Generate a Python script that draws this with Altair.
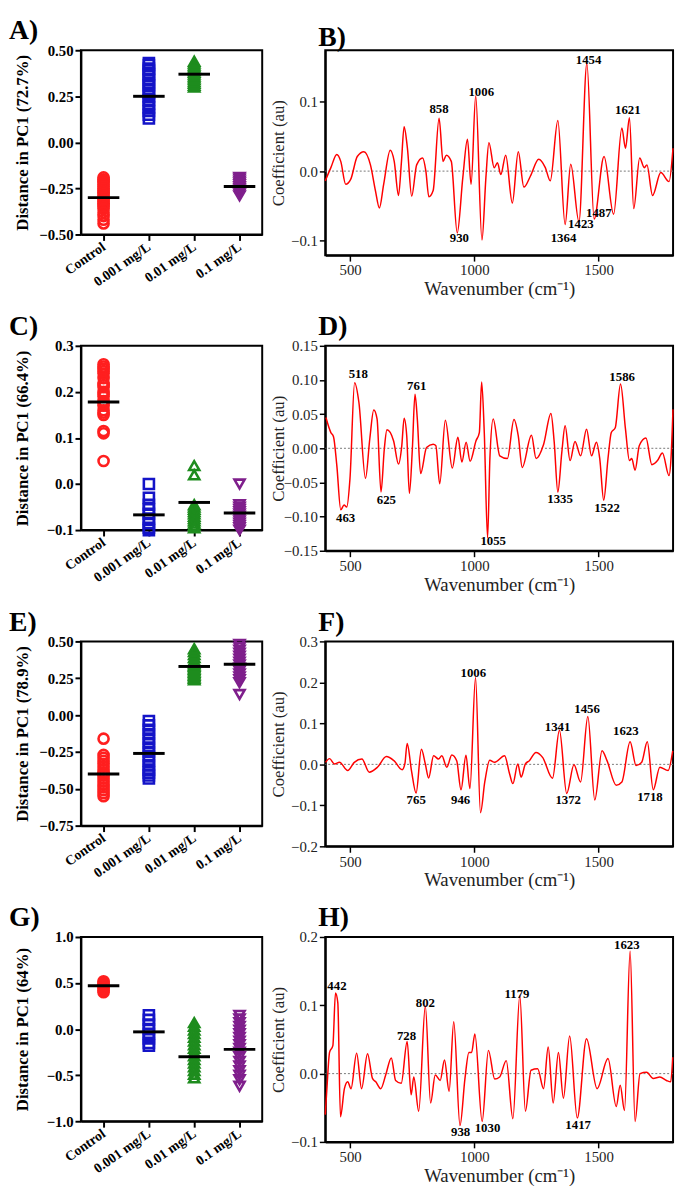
import altair as alt
import pandas as pd

SERIF = "Liberation Serif"
GROUPS = ["Control", "0.001 mg/L", "0.01 mg/L", "0.1 mg/L"]
SHAPES = ["circle", "square", "triangle-up", "triangle-down"]
COLORS = ["#ff1f1f", "#1414c8", "#1e8c1e", "#7f1f8c"]

# ---------------- scatter panels (distance in PC1) ----------------
A_control = [-0.19, -0.20, -0.21, -0.22, -0.23, -0.24, -0.25, -0.26, -0.27, -0.28, -0.29, -0.30,
             -0.31, -0.32, -0.33, -0.34, -0.35, -0.36, -0.38, -0.40, -0.42, -0.44]
A_low = [0.13, 0.15, 0.17, 0.19, 0.21, 0.23, 0.25, 0.27, 0.29, 0.31, 0.32, 0.34, 0.36, 0.37,
         0.39, 0.40, 0.42, 0.43]
A_mid = [0.30, 0.31, 0.32, 0.33, 0.34, 0.35, 0.36, 0.37, 0.38, 0.39, 0.40, 0.41, 0.42, 0.43, 0.44]
A_high = [-0.19, -0.20, -0.21, -0.22, -0.23, -0.24, -0.25, -0.26, -0.27, -0.28, -0.29]
A_means = [-0.30, 0.25, 0.37, -0.24]

C_control = [0.05, 0.11, 0.115, 0.15, 0.155, 0.16, 0.17, 0.175, 0.18, 0.19, 0.195, 0.20, 0.21,
             0.215, 0.22, 0.23, 0.24, 0.245, 0.25, 0.255, 0.26]
C_low = [0.0, -0.03, -0.045, -0.055, -0.065, -0.075, -0.085, -0.095, -0.10]
C_mid = [0.04, 0.02, -0.045, -0.05, -0.055, -0.06, -0.065, -0.07, -0.075, -0.08, -0.085, -0.09, -0.095]
C_high = [0.0, -0.045, -0.05, -0.055, -0.06, -0.065, -0.07, -0.075, -0.08, -0.085, -0.09, -0.095, -0.10]
C_means = [0.178, -0.067, -0.040, -0.063]

E_control = [-0.16, -0.27, -0.29, -0.31, -0.33, -0.35, -0.37, -0.39, -0.40, -0.41, -0.43, -0.45,
             -0.47, -0.49, -0.51, -0.53, -0.55]
E_low = [-0.04, -0.07, -0.10, -0.13, -0.16, -0.19, -0.22, -0.25, -0.28, -0.31, -0.34, -0.37,
         -0.39, -0.41, -0.43]
E_mid = [0.24, 0.25, 0.26, 0.27, 0.28, 0.29, 0.30, 0.31, 0.32, 0.33, 0.34, 0.35, 0.37, 0.39,
         0.41, 0.43, 0.45]
E_high = [0.14, 0.22, 0.24, 0.26, 0.28, 0.30, 0.32, 0.34, 0.36, 0.38, 0.40, 0.42, 0.44, 0.46, 0.48]
E_means = [-0.40, -0.26, 0.33, 0.345]

G_control = [0.40, 0.42, 0.44, 0.46, 0.48, 0.50, 0.52]
G_low = [0.15, 0.10, 0.05, 0.0, -0.05, -0.10, -0.15, -0.18]
G_mid = [0.07, 0.03, -0.01, -0.05, -0.09, -0.13, -0.17, -0.21, -0.25, -0.29, -0.33, -0.37,
         -0.41, -0.45, -0.49, -0.53]
G_high = [0.15, 0.11, 0.07, 0.03, -0.01, -0.05, -0.09, -0.13, -0.17, -0.21, -0.25, -0.30,
          -0.35, -0.40, -0.45, -0.50, -0.55, -0.62]
G_means = [0.47, -0.03, -0.30, -0.22]

# ---------------- spectra (regression coefficients) ----------------
B_wn = [400, 422.6, 446.5, 462.4, 482.3, 502.3, 528.8, 555.4, 581.9, 601.9, 617.8, 635.1, 661.6,
        677.6, 694.8, 706.8, 717.4, 730.7, 747.9, 767.9, 791.8, 805.0, 817.0, 834.3, 858.2, 874.1,
        887.4, 907.3, 931.2, 953.8, 972.4, 987.0, 1005.6, 1030.8, 1046.7, 1058.7, 1079.9, 1093.2,
        1106.5, 1126.4, 1153.0, 1176.9, 1199.5, 1226.0, 1259.2, 1285.8, 1305.7, 1336.2, 1365.5,
        1388.0, 1421.2, 1453.1, 1482.3, 1522.2, 1560.7, 1593.9, 1608.5, 1624.4, 1641.7, 1665.6,
        1684.2, 1694.8, 1717.4, 1750.6, 1783.8, 1799.7]
B_coef = [-0.014, 0.005, 0.024, 0.014, -0.019, -0.012, 0.021, 0.028, 0.009, -0.028, -0.053, -0.019,
          0.030, 0.014, -0.035, 0.014, 0.064, 0.033, -0.036, 0.009, 0.019, 0.000, -0.037, -0.028,
          0.076, 0.014, 0.023, 0.014, -0.089, -0.009, 0.046, -0.019, 0.108, -0.099, -0.009, 0.041,
          0.005, 0.012, -0.005, 0.023, -0.046, 0.028, -0.023, -0.007, 0.017, 0.005, -0.014, 0.073,
          -0.077, 0.010, -0.073, 0.155, -0.069, 0.021, -0.062, 0.062, 0.033, 0.077, -0.054, 0.019,
          0.005, 0.009, -0.035, -0.002, -0.015, 0.033]
B_peak_text = ["858", "1006", "1454", "1621", "930", "1364", "1423", "1487"]
B_peak_wn = [858, 1028, 1460, 1618, 940, 1359, 1429, 1501]
B_peak_coef = [0.089, 0.114, 0.160, 0.088, -0.096, -0.096, -0.076, -0.060]

D_wn = [402.7, 422.6, 433.2, 446.5, 462.4, 475.7, 486.3, 499.6, 518.2, 535.5, 562.0, 579.3, 595.2,
        608.5, 624.4, 637.7, 648.3, 674.9, 694.8, 708.1, 717.4, 728.0, 738.6, 750.6, 761.2, 770.5,
        783.8, 807.7, 834.3, 844.9, 860.8, 883.4, 911.3, 933.9, 949.8, 967.1, 983.0, 1006.9,
        1020.2, 1029.5, 1040.1, 1053.4, 1062.7, 1076.0, 1102.5, 1133.1, 1159.6, 1176.9, 1192.8,
        1230.0, 1248.6, 1279.1, 1308.4, 1321.6, 1336.2, 1352.2, 1365.5, 1385.4, 1405.3, 1427.9,
        1451.8, 1471.7, 1491.6, 1504.9, 1520.8, 1538.1, 1551.4, 1567.3, 1588.6, 1608.5, 1624.4,
        1633.7, 1647.0, 1664.3, 1690.8, 1714.7, 1737.3, 1757.2, 1783.8, 1791.7, 1799.7]
D_coef = [0.045, 0.023, 0.017, -0.025, -0.090, -0.083, -0.086, -0.044, 0.096, 0.067, -0.044, 0.014,
          0.056, 0.043, -0.064, -0.001, 0.027, 0.011, -0.023, 0.004, 0.044, 0.018, -0.066, -0.001,
          0.079, 0.043, -0.037, 0.001, 0.006, 0.004, -0.052, 0.041, -0.029, 0.016, -0.020, 0.009,
          -0.019, 0.011, 0.023, 0.097, 0.023, -0.131, -0.015, 0.043, -0.011, -0.015, 0.042, 0.018,
          -0.028, 0.019, -0.015, 0.006, 0.051, 0.009, -0.064, -0.006, 0.033, -0.018, 0.010, -0.011,
          0.028, -0.011, 0.009, -0.015, -0.076, -0.015, 0.023, 0.030, 0.094, 0.028, -0.018, -0.015,
          -0.032, 0.004, 0.015, -0.024, -0.018, -0.007, -0.040, -0.015, 0.057]
D_peak_text = ["518", "761", "1586", "463", "625", "1055", "1335", "1522"]
D_peak_wn = [533, 768, 1595, 482, 646, 1076, 1345, 1534]
D_peak_coef = [0.108, 0.091, 0.105, -0.102, -0.076, -0.136, -0.074, -0.088]

F_wn = [401.3, 417.3, 437.2, 457.2, 490.4, 517.0, 547.6, 576.8, 610.1, 646.0, 676.5, 709.8, 720.4,
        729.7, 747.0, 765.6, 786.9, 802.8, 816.1, 836.1, 856.0, 869.3, 889.3, 909.2, 929.1, 946.4,
        966.4, 982.3, 1004.9, 1024.9, 1042.1, 1062.1, 1082.0, 1121.9, 1141.9, 1155.2, 1175.1,
        1188.4, 1205.7, 1221.6, 1248.2, 1274.8, 1314.7, 1342.6, 1371.9, 1401.1, 1427.7, 1457.0,
        1484.9, 1514.1, 1534.1, 1571.3, 1593.9, 1627.1, 1651.1, 1673.7, 1696.3, 1720.2, 1746.8,
        1780.0, 1798.6]
F_coef = [0.005, 0.014, 0.001, 0.005, -0.015, 0.005, 0.013, -0.019, -0.007, 0.019, 0.009, -0.013,
          0.001, 0.051, -0.015, -0.070, 0.037, 0.001, -0.033, 0.021, 0.013, 0.021, -0.007, 0.023,
          0.009, -0.062, 0.022, -0.059, 0.212, -0.118, -0.043, 0.010, 0.005, 0.021, -0.023, -0.047,
          0.001, -0.031, 0.001, 0.009, 0.029, 0.017, -0.034, 0.083, -0.071, -0.001, -0.043, 0.117,
          -0.087, 0.033, 0.009, -0.051, -0.043, 0.055, -0.003, 0.005, 0.055, -0.062, -0.007,
          -0.015, 0.033]
F_peak_text = ["1006", "1341", "1456", "1623", "765", "946", "1372", "1718"]
F_peak_wn = [996, 1335, 1454, 1610, 766, 945, 1378, 1707]
F_peak_coef = [0.223, 0.091, 0.135, 0.081, -0.087, -0.087, -0.087, -0.079]

H_wn = [400, 406.6, 417.3, 430.6, 441.2, 450.5, 461.2, 477.1, 490.4, 503.7, 526.3, 546.2, 570.2,
        590.1, 603.4, 623.4, 643.3, 665.9, 683.2, 705.8, 729.7, 745.7, 756.3, 776.2, 802.8, 824.1,
        842.7, 862.7, 879.9, 898.6, 917.2, 942.4, 962.4, 978.3, 989.0, 1002.3, 1031.5, 1056.8,
        1082.0, 1102.0, 1128.6, 1155.2, 1183.1, 1205.7, 1228.3, 1254.9, 1278.8, 1297.4, 1317.4,
        1338.6, 1358.6, 1383.8, 1414.4, 1451.6, 1494.2, 1538.1, 1571.3, 1587.2, 1604.5, 1627.1,
        1647.1, 1667.0, 1693.6, 1720.2, 1746.8, 1773.3, 1790.6, 1798.6]
H_coef = [-0.060, -0.022, 0.031, 0.041, 0.118, 0.104, -0.063, -0.022, -0.012, -0.022, 0.030, -0.022,
          0.029, -0.007, -0.012, -0.022, -0.002, 0.023, -0.010, -0.014, 0.047, -0.031, -0.005,
          -0.055, 0.099, -0.043, -0.002, -0.010, 0.020, -0.026, 0.076, -0.076, -0.007, 0.031, 0.031,
          0.058, -0.070, 0.034, -0.008, -0.005, 0.019, -0.066, 0.114, -0.055, 0.005, 0.007, -0.022,
          0.039, -0.043, 0.031, -0.036, 0.055, -0.065, 0.051, -0.022, 0.022, -0.048, -0.017, -0.054,
          0.179, -0.070, 0.000, 0.002, -0.007, -0.005, -0.010, -0.012, 0.024]
H_peak_text = ["442", "728", "802", "1179", "1623", "938", "1030", "1417"]
H_peak_wn = [447, 727, 803, 1172, 1614, 945, 1053, 1418]
H_peak_coef = [0.128, 0.055, 0.104, 0.117, 0.188, -0.085, -0.079, -0.075]

SC_W, SC_H = 184, 187
LN_W, LN_H = 353, 208
TITLE_OFFSET = -2


def scatter(label, groups, means, ydomain, yticks, yfmt, ytitle):
    rows = []
    for g, vals in zip(GROUPS, groups):
        for v in vals:
            rows.append({"group": g, "value": v})
    df = pd.DataFrame(rows)
    mdf = pd.DataFrame({"group": GROUPS, "value": means})
    x = alt.X("group:N", sort=GROUPS, scale=alt.Scale(type="point", padding=0.5),
              axis=alt.Axis(title=None, labelAngle=-35, labelAlign="right", labelBaseline="middle",
                            labelFont=SERIF, labelFontWeight="bold", labelFontSize=14,
                            labelColor="black", labelPadding=5, tickSize=6, tickWidth=2,
                            tickColor="black", domainColor="black", domainWidth=2,
                            labelOverlap=False))
    y = alt.Y("value:Q", scale=alt.Scale(domain=ydomain, nice=False, zero=False),
              axis=alt.Axis(title=ytitle, values=yticks, tickCount=len(yticks) + 2, format=yfmt,
                            labelFont=SERIF, labelFontWeight="bold", labelFontSize=15,
                            labelColor="black", titleFont=SERIF, titleFontWeight="bold",
                            titleFontSize=17, titleColor="black", titlePadding=8,
                            minExtent=42, maxExtent=42, tickSize=6, tickWidth=2,
                            tickColor="black", domainColor="black", domainWidth=2, grid=False,
                            labelOverlap=False))
    pts = alt.Chart(df).mark_point(filled=False, strokeWidth=2.6, size=105, opacity=1).encode(
        x=x, y=y,
        color=alt.Color("group:N", scale=alt.Scale(domain=GROUPS, range=COLORS), legend=None),
        shape=alt.Shape("group:N", scale=alt.Scale(domain=GROUPS, range=SHAPES), legend=None),
    )
    mean = alt.Chart(mdf).mark_tick(color="black", thickness=3, size=32, opacity=1).encode(
        x=alt.X("group:N", sort=GROUPS), y=alt.Y("value:Q"))
    return alt.layer(pts, mean).properties(
        width=SC_W, height=SC_H,
        title=alt.TitleParams(text=label, anchor="start", frame="bounds", font=SERIF,
                              fontSize=28, fontWeight="bold", color="black",
                              offset=TITLE_OFFSET, dx=-5))


def spectrum(label, wn, coef, ptext, pwn, pcoef, ydomain, yticks, yfmt):
    df = pd.DataFrame({"wn": wn, "coef": coef})
    ldf = pd.DataFrame({"label": ptext, "wn": pwn, "coef": pcoef})
    zdf = pd.DataFrame({"coef": [0.0]})
    x = alt.X("wn:Q", scale=alt.Scale(domain=[400, 1800], nice=False, zero=False),
              axis=alt.Axis(title="Wavenumber (cm\u207b\u00b9)", values=[500, 1000, 1500],
                            tickCount=10, format="d", labelFont=SERIF, labelFontSize=15,
                            labelColor="#222", titleFont=SERIF, titleFontSize=19,
                            titleFontWeight="normal", titleColor="#222", titlePadding=2,
                            tickSize=6, tickWidth=1.5, tickColor="black", domainColor="black",
                            domainWidth=2, grid=False, labelOverlap=False))
    y = alt.Y("coef:Q", scale=alt.Scale(domain=ydomain, nice=False, zero=False),
              axis=alt.Axis(title="Coefficient (au)", values=yticks, tickCount=len(yticks) + 2,
                            format=yfmt, labelFont=SERIF, labelFontSize=15, labelColor="#222",
                            titleFont=SERIF, titleFontSize=17, titleFontWeight="normal",
                            titleColor="#222", titlePadding=0, minExtent=38, maxExtent=38,
                            tickSize=6, tickWidth=1.5, tickColor="black", domainColor="black",
                            domainWidth=2, grid=False, labelOverlap=False))
    zero = alt.Chart(zdf).mark_rule(color="#777", strokeDash=[2, 2], strokeWidth=1).encode(y=y)
    line = alt.Chart(df).mark_line(color="#ff0000", strokeWidth=1.5, interpolate="monotone").encode(
        x=x, y="coef:Q")
    txt = alt.Chart(ldf).mark_text(font=SERIF, fontWeight="bold", fontSize=13, color="black").encode(
        x="wn:Q", y="coef:Q", text="label:N")
    return alt.layer(zero, line, txt).properties(
        width=LN_W, height=LN_H,
        title=alt.TitleParams(text=label, anchor="start", frame="group", font=SERIF,
                              fontSize=28, fontWeight="bold", color="black",
                              offset=TITLE_OFFSET, dx=-7))


HSP = 6
rowA = alt.hconcat(
    scatter("A)", [A_control, A_low, A_mid, A_high], A_means, [-0.5, 0.5],
            [-0.5, -0.25, 0, 0.25, 0.5], ".2f", "Distance in PC1 (72.7%)"),
    spectrum("B)", B_wn, B_coef, B_peak_text, B_peak_wn, B_peak_coef, [-0.121, 0.174],
             [-0.1, 0.0, 0.1], ".1f"),
    spacing=HSP)
rowC = alt.hconcat(
    scatter("C)", [C_control, C_low, C_mid, C_high], C_means, [-0.1, 0.3],
            [-0.1, 0.0, 0.1, 0.2, 0.3], ".1f", "Distance in PC1 (66.4%)"),
    spectrum("D)", D_wn, D_coef, D_peak_text, D_peak_wn, D_peak_coef, [-0.15, 0.15],
             [-0.15, -0.1, -0.05, 0.0, 0.05, 0.1, 0.15], ".2f"),
    spacing=HSP)
rowE = alt.hconcat(
    scatter("E)", [E_control, E_low, E_mid, E_high], E_means, [-0.75, 0.5],
            [-0.75, -0.5, -0.25, 0, 0.25, 0.5], ".2f", "Distance in PC1 (78.9%)"),
    spectrum("F)", F_wn, F_coef, F_peak_text, F_peak_wn, F_peak_coef, [-0.2, 0.3],
             [-0.2, -0.1, 0.0, 0.1, 0.2, 0.3], ".1f"),
    spacing=HSP)
rowG = alt.hconcat(
    scatter("G)", [G_control, G_low, G_mid, G_high], G_means, [-1.0, 1.0],
            [-1.0, -0.5, 0.0, 0.5, 1.0], ".1f", "Distance in PC1 (64%)"),
    spectrum("H)", H_wn, H_coef, H_peak_text, H_peak_wn, H_peak_coef, [-0.1, 0.2],
             [-0.1, 0.0, 0.1, 0.2], ".1f"),
    spacing=HSP)

chart = alt.vconcat(rowA, rowC, rowE, rowG, spacing=13).configure(
    padding={"left": 0, "top": 0, "right": 0, "bottom": 0},
    background="white",
).configure_view(stroke="black", strokeWidth=2)

chart.save("out.html", embed_options={"renderer": "svg", "actions": False})
